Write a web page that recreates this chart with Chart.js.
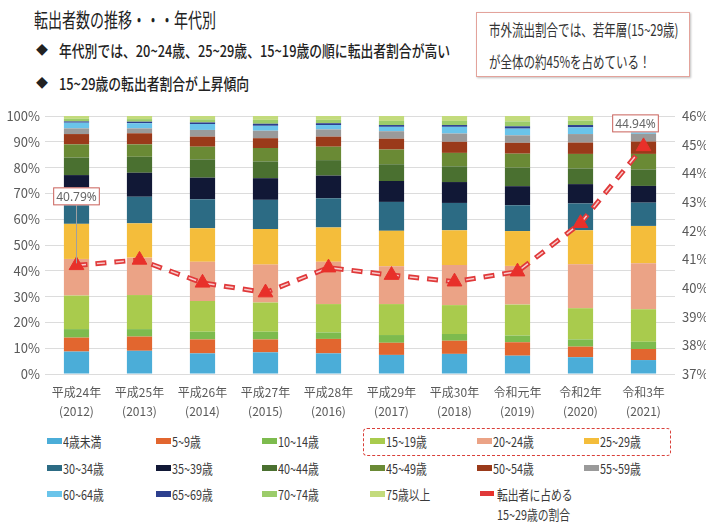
<!DOCTYPE html>
<html lang="ja">
<head>
<meta charset="utf-8">
<script src="https://cdn.jsdelivr.net/npm/chart.js@4.4.1/dist/chart.umd.min.js"></script>
<style>
  body { margin: 0; width: 706px; height: 523px; background: #fff; position: relative; overflow: hidden;
         font-family: 'Noto Sans CJK JP', 'Noto Sans', sans-serif; color: #333; }
  .sq { position: absolute; white-space: nowrap; transform-origin: 0 50%; }
  #title { left: 34px; top: 6px; font-size: 20px; line-height: 28px; transform: scaleX(0.7); color: #222; }
  .dia { position: absolute; left: 36px; font-size: 12px; line-height: 22px; color: #222; }
  .bul { left: 59px; font-size: 16px; line-height: 22px; transform: scaleX(0.8); color: #222; font-weight: 500; }
  #callout { position: absolute; left: 476px; top: 12px; width: 212px; height: 63px; border: 1.5px solid #e3a39b;
             box-shadow: 1px 1px 2px rgba(0,0,0,0.25); background: #fff; }
  .co { left: 489px; font-size: 16px; line-height: 22px; transform: scaleX(0.72); color: #333; }
  #wrap { position: absolute; left: 0; top: 100px; width: 706px; height: 326px; }
  #hilite { position: absolute; left: 363px; top: 428px; width: 306px; height: 26px; border: 1.5px dashed #d9403a; border-radius: 4px; }
  .lg { position: absolute; height: 16px; white-space: nowrap; }
  .lg i { position: absolute; left: 0; top: 5px; width: 15px; height: 6px; }
  .lg span { position: absolute; left: 16px; top: -2px; font-size: 13.5px; line-height: 20px; color: #3a3a3a;
             transform: scaleX(0.8); transform-origin: 0 50%; }
</style>
</head>
<body>
<div id="title" class="sq">転出者数の推移・・・年代別</div>
<div class="dia" style="top:39px">◆</div>
<div class="sq bul" style="top:39px">年代別では、20~24歳、25~29歳、15~19歳の順に転出者割合が高い</div>
<div class="dia" style="top:72px">◆</div>
<div class="sq bul" style="top:72px">15~29歳の転出者割合が上昇傾向</div>
<div id="callout"></div>
<div class="sq co" style="top:18px">市外流出割合では、若年層(15~29歳)</div>
<div class="sq co" style="top:50px">が全体の約45%を占めている！</div>
<div id="wrap"><canvas id="chart"></canvas></div>
<div id="hilite"></div>
<div id="legend"></div>
<script>
// 年度
const eras = ["平成24年", "平成25年", "平成26年", "平成27年", "平成28年", "平成29年", "平成30年", "令和元年", "令和2年", "令和3年"];
const years = ["(2012)", "(2013)", "(2014)", "(2015)", "(2016)", "(2017)", "(2018)", "(2019)", "(2020)", "(2021)"];

// 年代区分
const ageGroups = ["4歳未満", "5~9歳", "10~14歳", "15~19歳", "20~24歳", "25~29歳",
                   "30~34歳", "35~39歳", "40~44歳", "45~49歳", "50~54歳", "55~59歳",
                   "60~64歳", "65~69歳", "70~74歳", "75歳以上"];

// 年代別の転出者割合 (%)
const under4 = [8.7, 9.0, 8.0, 8.4, 8.0, 7.4, 7.8, 7.1, 6.5, 5.4];
const age5_9 = [5.4, 5.5, 5.4, 5.0, 5.6, 4.7, 5.1, 5.2, 4.1, 4.3];
const age10_14 = [3.3, 2.9, 3.0, 3.0, 2.5, 3.0, 2.6, 2.6, 2.8, 2.8];
const age15_19 = [13.0, 13.2, 11.9, 11.3, 11.0, 12.0, 11.2, 12.0, 12.1, 12.6];
const age20_24 = [14.2, 14.5, 15.2, 14.7, 16.4, 14.7, 15.5, 15.0, 17.0, 17.8];
const age25_29 = [13.6, 13.3, 13.0, 13.8, 13.3, 13.7, 13.5, 13.5, 13.2, 14.5];
const age30_34 = [10.8, 10.3, 11.2, 11.3, 11.3, 11.2, 10.6, 10.0, 10.4, 9.0];
const age35_39 = [8.1, 9.3, 8.4, 8.4, 8.8, 8.1, 8.1, 7.4, 7.5, 6.5];
const age40_44 = [6.8, 6.2, 7.1, 6.5, 6.0, 6.5, 6.1, 7.2, 6.1, 6.4];
const age45_49 = [5.1, 4.8, 4.9, 5.2, 5.2, 5.7, 5.2, 5.4, 5.6, 6.0];
const age50_54 = [4.0, 4.3, 3.9, 3.8, 3.9, 4.2, 4.3, 4.2, 4.4, 4.8];
const age55_59 = [2.2, 1.9, 2.6, 2.9, 2.8, 2.9, 3.2, 2.9, 3.3, 3.0];
const age60_64 = [2.2, 2.0, 2.3, 1.9, 1.7, 1.7, 2.6, 2.6, 2.6, 2.5];
const age65_69 = [0.5, 0.6, 0.6, 0.8, 0.7, 0.7, 0.7, 0.9, 0.9, 0.8];
const age70_74 = [1.0, 1.0, 1.2, 1.5, 1.3, 1.6, 1.6, 1.9, 1.7, 1.8];
const age75up = [1.1, 1.2, 1.3, 1.5, 1.5, 1.9, 1.9, 2.1, 1.8, 1.8];

// 転出者に占める15~29歳の割合 (%)
const youthRatio = [40.79, 40.98, 40.18, 39.84, 40.71, 40.45, 40.22, 40.57, 42.26, 44.94];

const leftTicks = { min: 0, max: 100, step: 10 };
const rightTicks = { min: 37, max: 46, step: 1 };

const shares = [under4, age5_9, age10_14, age15_19, age20_24, age25_29, age30_34, age35_39,
                age40_44, age45_49, age50_54, age55_59, age60_64, age65_69, age70_74, age75up];
const colors = ["#4badd8", "#e2662f", "#7dbb4e", "#a9cb4d", "#eba386", "#f4bd3b",
                "#2c6b84", "#111836", "#4a7030", "#6a8a35", "#9a3a1a", "#9a9a9a",
                "#6ac4ea", "#2c3f8e", "#9ccc6a", "#c3db7c"];
const lineRed = "#e0393a";

// ラベル位置 (点からのずらし)
const labelSpots = [
  { index: 0, dx: 0, dy: -69, leader: true },
  { index: 9, dx: -8, dy: -23, leader: false }
];

Chart.defaults.font.family = "'Noto Sans CJK JP', 'Noto Sans', sans-serif";
Chart.defaults.color = "#595959";

const barSets = ageGroups.map((name, i) => ({
  label: name,
  data: shares[i],
  backgroundColor: colors[i],
  borderWidth: 0,
  stack: "s",
  yAxisID: "y",
  barPercentage: 0.4,
  categoryPercentage: 1.0,
  order: 10
}));

const valueLabels = {
  id: "valueLabels",
  afterDatasetsDraw(chart) {
    const ctx = chart.ctx;
    const meta = chart.getDatasetMeta(chart.data.datasets.length - 1);
    ctx.save();
    ctx.font = "12px 'Noto Sans', sans-serif";
    labelSpots.forEach(s => {
      const pt = meta.data[s.index];
      const text = youthRatio[s.index].toFixed(2) + "%";
      const w = ctx.measureText(text).width + 6;
      const h = 18;
      const cx = pt.x + s.dx, cy = pt.y + s.dy;
      if (s.leader) {
        ctx.strokeStyle = "#a0a0a0";
        ctx.lineWidth = 1;
        ctx.beginPath();
        ctx.moveTo(pt.x, cy + h / 2);
        ctx.lineTo(pt.x, pt.y - 2);
        ctx.stroke();
      }
      ctx.fillStyle = "#fff";
      ctx.fillRect(cx - w / 2, cy - h / 2, w, h);
      ctx.strokeStyle = "#c9605a";
      ctx.lineWidth = 1;
      ctx.strokeRect(cx - w / 2 + 0.5, cy - h / 2 + 0.5, w - 1, h - 1);
      ctx.fillStyle = "#666";
      ctx.textAlign = "center";
      ctx.textBaseline = "middle";
      ctx.fillText(text, cx, cy + 1);
    });
    ctx.restore();
  }
};

const chart = new Chart(document.getElementById("chart"), {
  type: "bar",
  data: {
    labels: eras.map((e, i) => [e, years[i]]),
    datasets: barSets.concat([
      {
        type: "line", label: "outer", data: youthRatio, yAxisID: "y1",
        borderColor: lineRed, borderWidth: 5, borderDash: [11, 8],
        pointRadius: 0, fill: false, tension: 0, order: 3
      },
      {
        type: "line", label: "inner", data: youthRatio, yAxisID: "y1",
        borderColor: "#f7cccc", borderWidth: 1.5, borderDash: [8, 11], borderDashOffset: -1.5,
        pointRadius: 0, fill: false, tension: 0, order: 2
      },
      {
        type: "line", label: "転出者に占める\n15~29歳の割合", data: youthRatio, yAxisID: "y1",
        showLine: false, pointStyle: "triangle", pointRadius: 8.5,
        pointBackgroundColor: "#e8302a", pointBorderColor: "#e8302a", borderColor: lineRed,
        backgroundColor: lineRed, order: 1
      }
    ])
  },
  options: {
    responsive: true,
    maintainAspectRatio: false,
    animation: false,
    layout: { padding: { top: 16 } },
    plugins: { legend: { display: false }, tooltip: { enabled: false } },
    scales: {
      x: {
        stacked: true,
        grid: { display: false, drawTicks: false },
        border: { display: false },
        ticks: { padding: 9, font: { size: 12, lineHeight: 1.6 }, maxRotation: 0 },
        afterFit: s => { s.height = 52; }
      },
      y: {
        stacked: true,
        min: leftTicks.min, max: leftTicks.max,
        grid: { color: "#dcdcdc", drawTicks: false },
        border: { display: false },
        ticks: { stepSize: leftTicks.step, padding: 5, font: { size: 13 }, callback: v => v + "%" },
        afterFit: s => { s.width = 45; }
      },
      y1: {
        position: "right",
        min: rightTicks.min, max: rightTicks.max,
        grid: { display: false, drawTicks: false },
        border: { display: false },
        ticks: { stepSize: rightTicks.step, padding: 7, font: { size: 13 }, callback: v => v + "%" },
        afterFit: s => { s.width = 31; }
      }
    }
  },
  plugins: [valueLabels]
});

// 凡例 (6列)
const legendCols = [47, 156, 262, 370, 477, 584];
const legendRows = [441, 468, 494];
const legend = document.getElementById("legend");
const items = chart.data.datasets.filter(d => d.label !== "outer" && d.label !== "inner");
items.forEach((d, i) => {
  const el = document.createElement("div");
  el.className = "lg";
  el.style.left = legendCols[i % 6] + "px";
  el.style.top = (legendRows[Math.floor(i / 6)] - 8) + "px";
  const sw = document.createElement("i");
  if (d.type === "line") {
    sw.style.cssText = "width:10px;height:5px;top:5px;left:3px;background:" + lineRed + ";border-right:4px solid #e8302a";
  } else {
    sw.style.background = d.backgroundColor;
  }
  const tx = document.createElement("span");
  tx.innerHTML = d.label.split("\n").join("<br>");
  if (d.type === "line") tx.style.left = "20px";
  el.appendChild(sw);
  el.appendChild(tx);
  legend.appendChild(el);
});
</script>
</body>
</html>
